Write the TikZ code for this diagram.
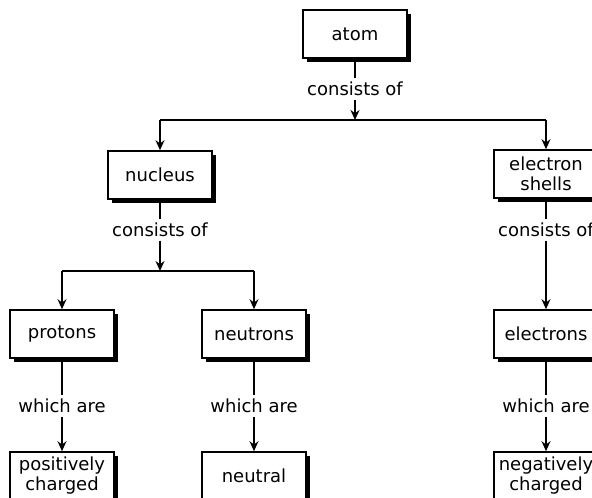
\documentclass[tikz,border=0pt]{standalone}
\usepackage{fontspec}
\setmainfont{DejaVu Sans}
\usetikzlibrary{arrows.meta,shadows}

\tikzset{
  box/.style={draw=black, line width=1.6pt, fill=white, minimum width=104pt,
    minimum height=48pt, inner sep=2pt, align=center,
    font=\fontsize{18}{20}\selectfont,
    drop shadow={shadow xshift=3.5pt, shadow yshift=-3.5pt, fill=black, opacity=1}},
  lbl/.style={fill=white, inner sep=4pt, text height=13pt, text depth=0pt,
    font=\fontsize{18}{20}\selectfont},
  link/.style={line width=1.4pt},
  tip/.style={link, -{Stealth[length=10pt,width=9pt]}}
}

\begin{document}
\begin{tikzpicture}[x=1pt,y=-1pt]
\path[use as bounding box] (0,0) rectangle (592,498);
\begin{scope}
\clip (0,0) rectangle (592,498);

\node[box] (atom) at (355,34) {atom};
\node[box] (nucleus) at (160,175) {nucleus};
\node[box] (shells) at (546,174) {electron\\shells};
\node[box] (protons) at (62,334) {protons};
\node[box] (neutrons) at (254,334) {neutrons};
\node[box] (electrons) at (546,334) {electrons};
\node[box] (positive) at (62,476) {positively\\charged};
\node[box] (neutral) at (254,476) {neutral};
\node[box] (negative) at (546,476) {negatively\\charged};

\node[lbl] (atomlbl) at (355,89) {consists of};
\node[lbl] (nuclbl) at (160,230) {consists of};
\node[lbl] (shelllbl) at (546,230) {consists of};
\node[lbl] (protlbl) at (62,406) {which are};
\node[lbl] (neutlbl) at (254,406) {which are};
\node[lbl] (elecllbl) at (546,406) {which are};

\coordinate (top) at (355,120);
\coordinate (topl) at (160,120);
\coordinate (topr) at (546,120);
\coordinate (mid) at (160,271);
\coordinate (midl) at (62,271);
\coordinate (midr) at (254,271);

% atom splits into nucleus and shells
\draw[link] (atom) -- (atomlbl);
\draw[tip] (atomlbl) -- (top);
\draw[link] (topl) -- (topr);
\draw[tip] (topl) -- (nucleus);
\draw[tip] (topr) -- (shells);

% nucleus splits into protons and neutrons
\draw[link] (nucleus) -- (nuclbl);
\draw[tip] (nuclbl) -- (mid);
\draw[link] (midl) -- (midr);
\draw[tip] (midl) -- (protons);
\draw[tip] (midr) -- (neutrons);

\draw[link] (shells) -- (shelllbl);
\draw[tip] (shelllbl) -- (electrons);

% charges
\draw[link] (protons) -- (protlbl);
\draw[tip] (protlbl) -- (positive);
\draw[link] (neutrons) -- (neutlbl);
\draw[tip] (neutlbl) -- (neutral);
\draw[link] (electrons) -- (elecllbl);
\draw[tip] (elecllbl) -- (negative);
\end{scope}
\end{tikzpicture}
\end{document}
